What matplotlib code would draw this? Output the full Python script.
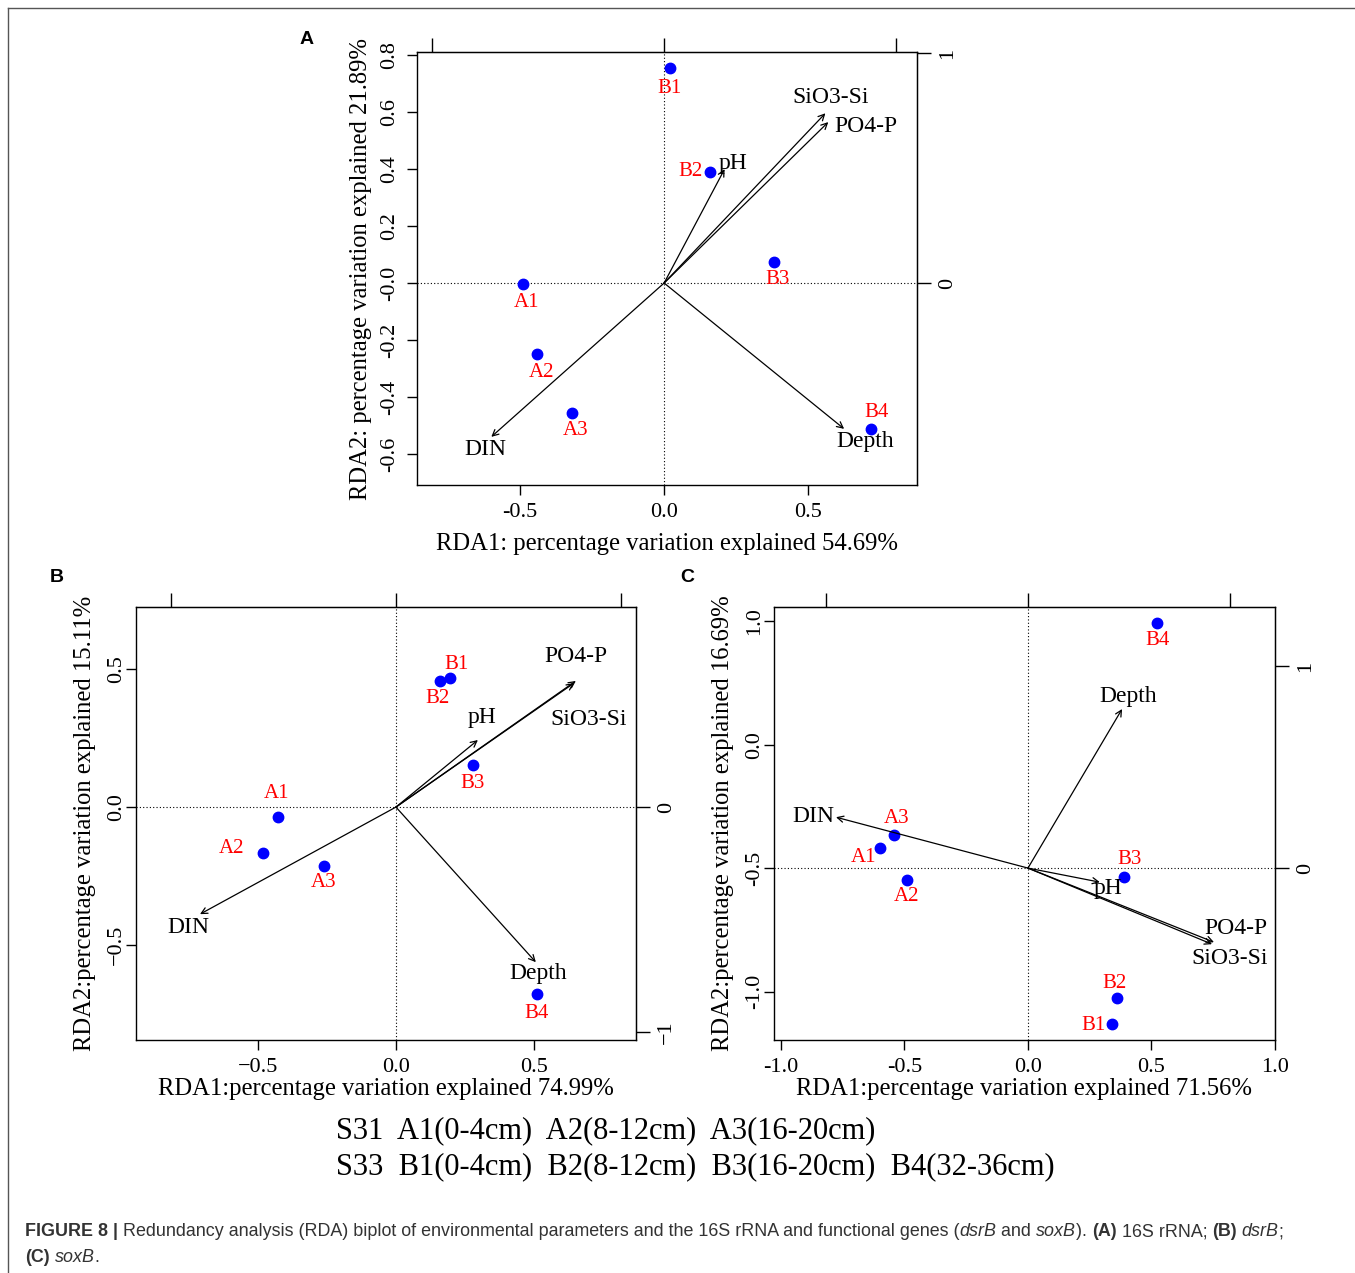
import matplotlib
matplotlib.use("Agg")
import matplotlib.pyplot as plt
from matplotlib.lines import Line2D

plt.rcParams["font.family"] = ["Liberation Serif", "DejaVu Serif"]

# Data
sites = ["A1", "A2", "A3", "B1", "B2", "B3", "B4"]
env_vars = ["pH", "DIN", "PO4-P", "SiO3-Si", "Depth"]

# (A) 16S rRNA
a_site_x = [-0.49, -0.44, -0.32, 0.02, 0.16, 0.38, 0.72]
a_site_y = [-0.004, -0.25, -0.456, 0.755, 0.39, 0.074, -0.512]
a_env_x = [0.21, -0.60, 0.57, 0.56, 0.625]
a_env_y = [0.40, -0.54, 0.565, 0.596, -0.512]

# (B) dsrB
b_site_x = [-0.428, -0.482, -0.261, 0.196, 0.159, 0.279, 0.511]
b_site_y = [-0.036, -0.167, -0.214, 0.467, 0.457, 0.152, -0.678]
b_env_x = [0.297, -0.710, 0.652, 0.645, 0.507]
b_env_y = [0.243, -0.388, 0.457, 0.449, -0.562]

# (C) soxB
c_site_x = [-0.599, -0.490, -0.543, 0.340, 0.360, 0.389, 0.522]
c_site_y = [0.081, -0.049, 0.134, -0.632, -0.526, -0.036, 0.992]
c_env_x = [0.291, -0.777, 0.753, 0.745, 0.381]
c_env_y = [-0.057, 0.206, -0.300, -0.308, 0.644]

# label offsets in pixels (layout only)
a_site_off = [(4, -18), (4, -18), (4, -18), (0, -21), (-20, 0), (4, -18), (5, 16)]
a_env_off = [(8, 6), (-6, -13), (38, -4), (5, 16), (21, -13)]
b_site_off = [(-1, 24), (-31, 5), (0, -16), (6, 14), (-2, -18), (0, -18), (0, -19)]
b_env_off = [(4, 23), (-12, -13), (0, 24), (15, -36), (2, -11)]
c_site_off = [(-16, -9), (0, -16), (3, 16), (-18, -1), (-2, 15), (6, 17), (1, -17)]
c_env_off = [(8, -6), (-23, 1), (22, 14), (18, -14), (6, 13)]

W, H = 1355, 1273
fig = plt.figure(figsize=(W / 100, H / 100), dpi=100)


def px_axes(x0, y0, x1, y1):
    return fig.add_axes([x0 / W, 1 - y1 / H, (x1 - x0) / W, (y1 - y0) / H])


def draw_panel(ax, sx, sy, ex, ey, s_off, e_off, xlim, ylim, k, ypad):
    ax.set_xlim(*xlim)
    ax.set_ylim(*ylim)
    ax.axhline(0, color="black", ls=(0, (1, 2)), lw=0.8)
    ax.axvline(0, color="black", ls=(0, (1, 2)), lw=0.8)
    for x, y, name, off in zip(ex, ey, env_vars, e_off):
        ax.annotate("", xy=(x, y), xytext=(0, 0),
                    arrowprops=dict(arrowstyle="->", lw=0.9, color="black",
                                    mutation_scale=11, shrinkA=0, shrinkB=0))
        ax.annotate(name, xy=(x, y), xytext=off, textcoords="offset pixels",
                    ha="center", va="center", fontsize=17)
    ax.plot(sx, sy, "o", color="#0000ff", markersize=7.5, ls="none")
    for x, y, name, off in zip(sx, sy, sites, s_off):
        ax.annotate(name, xy=(x, y), xytext=off, textcoords="offset pixels",
                    ha="center", va="center", fontsize=15, color="#ff0000")
    for s in ax.spines.values():
        s.set_linewidth(1.0)
    ax.tick_params(direction="out", length=7, width=1.0, labelsize=16, pad=6)
    ax.tick_params(axis="y", pad=ypad)
    for lab in ax.get_yticklabels():
        lab.set_rotation(90)
        lab.set_va("center")
    top = ax.secondary_xaxis("top", functions=(lambda v: v * k, lambda v: v / k))
    top.set_xticks([-1, 0, 1])
    top.set_xticklabels([])
    top.tick_params(direction="out", length=10, width=1.0)
    right = ax.secondary_yaxis("right", functions=(lambda v: v * k, lambda v: v / k))
    right.tick_params(direction="out", length=10, width=1.0, labelsize=16, pad=5)
    return right


# Panel A
axA = px_axes(417, 52, 917, 485)
axA.set_xticks([-0.5, 0.0, 0.5])
axA.set_xticklabels(["-0.5", "0.0", "0.5"])
axA.set_yticks([-0.6, -0.4, -0.2, 0.0, 0.2, 0.4, 0.6, 0.8])
axA.set_yticklabels(["-0.6", "-0.4", "-0.2", "-0.0", "0.2", "0.4", "0.6", "0.8"])
rA = draw_panel(axA, a_site_x, a_site_y, a_env_x, a_env_y, a_site_off, a_env_off,
                (-0.858, 0.878), (-0.709, 0.811), 1.24, 6)
rA.set_yticks([0, 1])
rA.set_yticklabels(["0", "1"], rotation=90, va="center")
axA.set_xlabel("RDA1: percentage variation explained 54.69%", fontsize=17.7, labelpad=8)
axA.set_ylabel("RDA2: percentage variation explained 21.89%", fontsize=17.7, labelpad=6)

# Panel B
axB = px_axes(136, 607, 636, 1040)
axB.set_xticks([-0.5, 0.0, 0.5])
axB.set_xticklabels(["\u22120.5", "0.0", "0.5"])
axB.set_yticks([-0.5, 0.0, 0.5])
axB.set_yticklabels(["\u22120.5", "0.0", "0.5"])
rB = draw_panel(axB, b_site_x, b_site_y, b_env_x, b_env_y, b_site_off, b_env_off,
                (-0.942, 0.870), (-0.844, 0.725), 1.227, 0)
rB.set_yticks([-1, 0])
rB.set_yticklabels(["\u22121", "0"], rotation=90, va="center")
axB.set_xlabel("RDA1:percentage variation explained 74.99%", fontsize=17.7, labelpad=1)
axB.set_ylabel("RDA2:percentage variation explained 15.11%", fontsize=17.7, labelpad=8)

# Panel C (tick labels kept as printed in the source figure)
axC = px_axes(774, 607, 1275, 1040)
axC.set_xticks([-1.0, -0.5, 0.0, 0.5, 1.0])
axC.set_xticklabels(["-1.0", "-0.5", "0.0", "0.5", "1.0"])
axC.set_yticks([-0.5, 0.0, 0.5, 1.0])
axC.set_yticklabels(["-1.0", "-0.5", "0.0", "1.0"])
rC = draw_panel(axC, c_site_x, c_site_y, c_env_x, c_env_y, c_site_off, c_env_off,
                (-1.028, 1.0), (-0.696, 1.057), 1.223, 0)
rC.set_yticks([0, 1])
rC.set_yticklabels(["0", "1"], rotation=90, va="center")
axC.set_xlabel("RDA1:percentage variation explained 71.56%", fontsize=17.7, labelpad=1)
axC.set_ylabel("RDA2:percentage variation explained 16.69%", fontsize=17.7, labelpad=8)

# panel letters
for letter, (x, y) in zip("ABC", [(307, 40), (57, 578), (687, 578)]):
    fig.text(x / W, 1 - y / H, letter, family="Liberation Sans", weight="bold",
             fontsize=14, ha="center", va="center")

# sample key
fig.text(336 / W, 1 - 1131 / H, "S31  A1(0-4cm)  A2(8-12cm)  A3(16-20cm)",
         fontsize=22, ha="left", va="center")
fig.text(336 / W, 1 - 1167 / H, "S33  B1(0-4cm)  B2(8-12cm)  B3(16-20cm)  B4(32-36cm)",
         fontsize=22, ha="left", va="center")

# frame
fig.add_artist(Line2D([8 / W, 8 / W], [0, 1 - 8 / H], color="#555555", lw=1.0))
fig.add_artist(Line2D([8 / W, 1], [1 - 8 / H, 1 - 8 / H], color="#555555", lw=1.0))

# caption with mixed styles
renderer = fig.canvas.get_renderer()
cap_lines = [
    [("FIGURE 8 | ", "bold", "normal"),
     ("Redundancy analysis (RDA) biplot of environmental parameters and the 16S rRNA and functional genes (", "normal", "normal"),
     ("dsrB", "normal", "italic"), (" and ", "normal", "normal"), ("soxB", "normal", "italic"),
     ("). ", "normal", "normal"), ("(A)", "bold", "normal"), (" 16S rRNA; ", "normal", "normal"),
     ("(B)", "bold", "normal"), (" ", "normal", "normal"), ("dsrB", "normal", "italic"),
     (";", "normal", "normal")],
    [("(C)", "bold", "normal"), (" ", "normal", "normal"), ("soxB", "normal", "italic"),
     (".", "normal", "normal")],
]
for row, ypx in zip(cap_lines, [1232, 1257]):
    xpx = 25
    for txt, wt, st in row:
        t = fig.text(xpx / W, 1 - ypx / H, txt, family="Liberation Sans", weight=wt,
                     style=st, fontsize=12.9, color="#333333", ha="left", va="center")
        bb = t.get_window_extent(renderer)
        xpx += bb.width

fig.savefig("out.png", dpi=100)
